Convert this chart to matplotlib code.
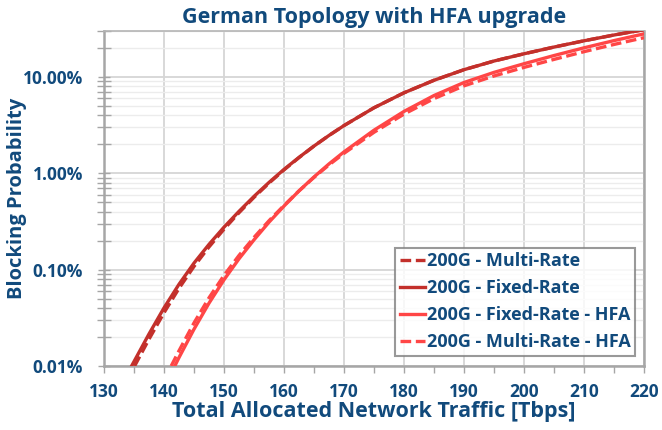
import matplotlib
matplotlib.use("Agg")
import matplotlib.pyplot as plt
from matplotlib.ticker import FixedLocator, FuncFormatter, LogLocator, NullFormatter, MultipleLocator

# ---- data (blocking probability in %) ----
x_fixed = [134.6, 137.5, 140, 142.5, 145, 147.5, 150, 152.5, 155, 157.5, 160, 162.5, 165, 167.5, 170,
           175, 180, 185, 190, 195, 200, 205, 210, 215, 220]
y_fixed = [0.0100, 0.0215, 0.0401, 0.0705, 0.117, 0.183, 0.276, 0.403, 0.576, 0.804, 1.098, 1.464, 1.919, 2.472, 3.130,
           4.79, 6.85, 9.24, 11.90, 14.64, 17.40, 20.44, 23.74, 27.26, 30.94]

x_multi = [135.1, 137.5, 140, 142.5, 145, 147.5, 150, 152.5, 155, 157.5, 160, 162.5, 165, 167.5, 170,
           175, 180, 185, 190, 195, 200, 205, 210, 215, 220]
y_multi = [0.0100, 0.0190, 0.0357, 0.0640, 0.108, 0.172, 0.263, 0.390, 0.563, 0.791, 1.085, 1.455, 1.919, 2.472, 3.130,
           4.79, 6.85, 9.24, 11.90, 14.64, 17.40, 20.44, 23.74, 27.26, 30.94]

x_fixed_hfa = [141.8, 142.5, 145, 147.5, 150, 152.5, 155, 157.5, 160, 162.5, 165, 167.5, 170,
               175, 180, 185, 190, 195, 200, 205, 210, 215, 220]
y_fixed_hfa = [0.0100, 0.01224, 0.0241, 0.0449, 0.0785, 0.1296, 0.204, 0.311, 0.457, 0.657, 0.917, 1.252, 1.669,
               2.803, 4.390, 6.42, 8.76, 11.16, 13.72, 16.69, 20.07, 23.85, 28.03]

x_multi_hfa = [141.2, 142.5, 145, 147.5, 150, 152.5, 155, 157.5, 160, 162.5, 165, 167.5, 170,
               175, 180, 185, 190, 195, 200, 205, 210, 215, 220]
y_multi_hfa = [0.0100, 0.01438, 0.0280, 0.0510, 0.0871, 0.1405, 0.216, 0.322, 0.464, 0.657, 0.907, 1.223, 1.612,
               2.666, 4.117, 5.96, 8.09, 10.24, 12.57, 15.22, 18.30, 21.75, 25.56]

x_ticks = [130, 140, 150, 160, 170, 180, 190, 200, 210, 220]
y_ticks = [0.01, 0.1, 1.0, 10.0]

title = "German Topology with HFA upgrade"
xlabel = "Total Allocated Network Traffic [Tbps]"
ylabel = "Blocking Probability"

TEXT = "#114A7C"
DARK = "#C3302B"
LIGHT = "#FF4646"

plt.rcParams['font.family'] = ['Open Sans', 'DejaVu Sans']
plt.rcParams['font.weight'] = 'bold'

fig = plt.figure(figsize=(6.62, 4.30), dpi=100)
ax = fig.add_axes([104/662, 1-366/430, (644-104)/662, (366-31)/430])

lw = 2.4
ax.plot(x_multi, y_multi, color=DARK, lw=lw, ls=(0, (3.2, 1.4)), label="200G - Multi-Rate", zorder=4)
ax.plot(x_fixed, y_fixed, color=DARK, lw=lw, label="200G - Fixed-Rate", zorder=3)
ax.plot(x_fixed_hfa, y_fixed_hfa, color=LIGHT, lw=lw, label="200G - Fixed-Rate - HFA", zorder=3)
ax.plot(x_multi_hfa, y_multi_hfa, color=LIGHT, lw=lw, ls=(0, (3.2, 1.4)), label="200G - Multi-Rate - HFA", zorder=4)

ax.set_yscale('log')
ax.set_xlim(130, 220)
ax.set_ylim(0.01, 30)

ax.xaxis.set_major_locator(FixedLocator(x_ticks))
ax.xaxis.set_minor_locator(MultipleLocator(5))
ax.yaxis.set_major_locator(FixedLocator(y_ticks))
ax.yaxis.set_minor_locator(LogLocator(base=10, subs=[2, 3, 4, 5, 6, 7, 8, 9]))
ax.yaxis.set_minor_formatter(NullFormatter())
ax.yaxis.set_major_formatter(FuncFormatter(lambda v, p: f"{v:.2f}%"))

ax.grid(True, which='major', axis='both', color='#D6D6D6', lw=1.3)
ax.grid(True, which='minor', axis='y', color='#ECECEC', lw=1.0)
ax.set_axisbelow(True)

for s in ['left', 'bottom', 'right']:
    ax.spines[s].set_color('#A6A6A6')
    ax.spines[s].set_linewidth(1.8)
ax.spines['top'].set_color('#B4B4B4')
ax.spines['top'].set_linewidth(1.2)

ax.tick_params(axis='x', which='both', direction='out', length=5, width=1, color='#A6A6A6',
               labelsize=12.5, labelcolor=TEXT, pad=7)
ax.tick_params(axis='y', which='both', direction='inout', length=8, width=1, color='#A6A6A6',
               labelsize=12.5, labelcolor=TEXT, pad=11)
ax.tick_params(axis='y', which='minor', length=10)
for lab in ax.get_xticklabels() + ax.get_yticklabels():
    lab.set_fontweight('bold')

ax.set_title(title, fontsize=15.5, fontweight='bold', color=TEXT, pad=6)
ax.set_xlabel(xlabel, fontsize=15.5, fontweight='bold', color=TEXT, labelpad=0)
ax.set_ylabel(ylabel, fontsize=14.5, fontweight='bold', color=TEXT)
ax.yaxis.set_label_coords(-0.142, 0.5)

leg = ax.legend(loc='lower right', bbox_to_anchor=(0.99, 0.02), fontsize=13, frameon=True, fancybox=False,
                edgecolor='#808080', handlelength=1.4, handletextpad=0.1, borderpad=0.25,
                labelspacing=0.5, borderaxespad=0.2)
leg.get_frame().set_linewidth(1.5)
for t in leg.get_texts():
    t.set_color(TEXT)
    t.set_fontweight('bold')

fig.savefig("out.png", dpi=100)
